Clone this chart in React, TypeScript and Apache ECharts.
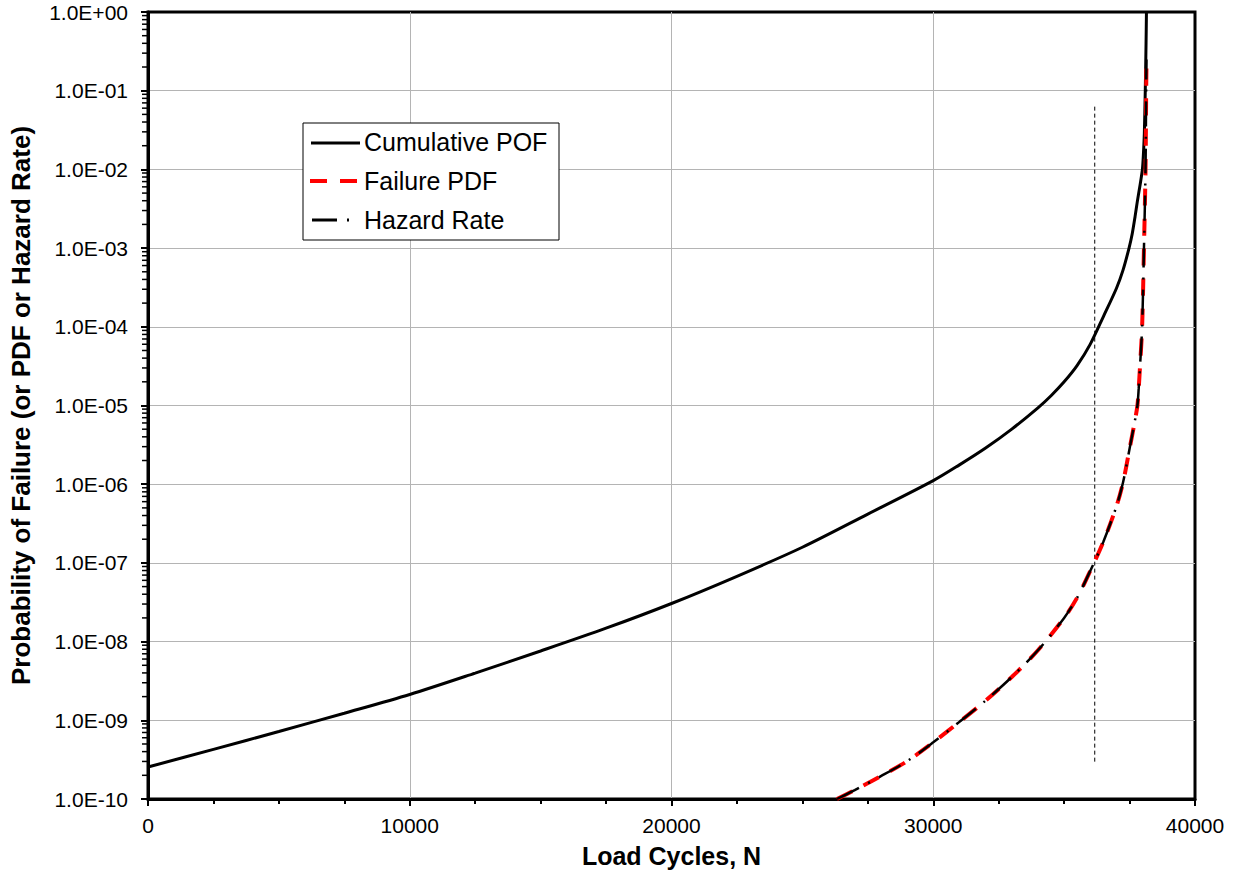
import React, { useEffect, useRef } from 'react';
import * as echarts from 'echarts';

// ---- data ----
const cumN = [0, 2500, 5000, 7500, 10000, 12500, 15000, 17500, 20000, 22500, 25000, 27500, 30000, 31000, 32000, 33000, 34000, 34500, 35000, 35500, 36000, 36500, 37000, 37250, 37480, 37600, 37710, 37800, 37900, 37990, 38030, 38065, 38100, 38130, 38145];
const cumPOF = [2.55e-10, 4.27e-10, 7.2e-10, 1.23e-9, 2.13e-9, 3.98e-9, 7.6e-9, 1.48e-8, 3.05e-8, 6.76e-8, 1.58e-7, 4.17e-7, 1.11e-6, 1.76e-6, 2.88e-6, 5.01e-6, 9.33e-6, 1.33e-5, 2.0e-5, 3.24e-5, 6.03e-5, 1.35e-4, 3.09e-4, 5.25e-4, 1.0e-3, 1.51e-3, 2.51e-3, 3.98e-3, 6.3e-3, 1.0e-2, 1.58e-2, 2.9e-2, 1.0e-1, 4.0e-1, 1.0];

const pdfN = [26320, 27000, 28000, 29000, 30000, 31000, 32000, 33000, 34000, 35000, 35500, 36000, 36500, 37000, 37250, 37500, 37700, 37800, 37850, 37900, 37980, 38050, 38110, 38135, 38145];
const pdfVal = [1e-10, 1.30e-10, 1.95e-10, 3.02e-10, 5.25e-10, 9.55e-10, 1.78e-9, 3.55e-9, 7.76e-9, 2.0e-8, 3.63e-8, 7.94e-8, 1.86e-7, 5.25e-7, 1.05e-6, 2.82e-6, 6.3e-6, 1.0e-5, 1.66e-5, 3.16e-5, 1.0e-4, 1.0e-3, 1.0e-2, 1.0e-1, 0.2];
const hazVal = [1e-10, 1.30e-10, 1.95e-10, 3.02e-10, 5.25e-10, 9.55e-10, 1.78e-9, 3.55e-9, 7.76e-9, 2.0e-8, 3.63e-8, 7.94e-8, 1.86e-7, 5.25e-7, 1.05e-6, 2.82e-6, 6.3e-6, 1.0e-5, 1.66e-5, 3.16e-5, 1.0e-4, 1.0e-3, 1.01e-2, 1.1e-1, 0.25];

const refN = [36170, 36170];
const refVal = [0.0627, 2.8e-10];

const seriesNames = ['Cumulative POF', 'Failure PDF', 'Hazard Rate'];
const xTitle = 'Load Cycles, N';
const yTitle = 'Probability of Failure (or PDF or Hazard Rate)';
const xMin = 0;
const xMax = 40000;
const xStep = 10000;
const yMin = 1e-10;
const yMax = 1;
const minorMultipliers = [2, 3, 4, 5, 6, 7, 8, 9];
const decadeExps = [-10, -9, -8, -7, -6, -5, -4, -3, -2, -1];

const FONT = '"Liberation Sans", Arial, Helvetica, sans-serif';

function fmtSci(v: number): string {
  const e = Math.round(Math.log10(v));
  return '1.0E' + (e < 0 ? '-' : '+') + String(Math.abs(e)).padStart(2, '0');
}

export default function App() {
  const ref = useRef<HTMLDivElement>(null);
  useEffect(() => {
    if (!ref.current) return;
    const chart = echarts.init(ref.current, null, { renderer: 'svg' });
    const minorVals: number[][] = [];
    decadeExps.forEach((e) => minorMultipliers.forEach((k) => minorVals.push([0, k * Math.pow(10, e)])));

    const option: any = {
      animation: false,
      backgroundColor: '#ffffff',
      grid: {
        left: 147, right: 42, top: 12, bottom: 79,
        show: true, borderColor: '#000', borderWidth: 3, backgroundColor: 'transparent',
      },
      xAxis: {
        type: 'value', min: xMin, max: xMax, interval: xStep,
        name: xTitle, nameLocation: 'middle', nameGap: 44,
        nameTextStyle: { fontFamily: FONT, fontSize: 25, fontWeight: 'bold', color: '#000' },
        axisLine: { show: true, onZero: false, lineStyle: { color: '#000', width: 3 } },
        axisTick: { show: true, inside: false, length: 7, lineStyle: { color: '#000', width: 2 } },
        minorTick: { show: true, splitNumber: 4, length: 5, lineStyle: { color: '#000', width: 2 } },
        axisLabel: { fontFamily: FONT, fontSize: 21, color: '#000', margin: 16, formatter: (v: number) => String(v) },
        splitLine: { show: true, showMinLine: false, showMaxLine: false, lineStyle: { color: '#b4b4b4', width: 1 } },
      },
      yAxis: {
        type: 'log', logBase: 10, min: yMin, max: yMax, interval: 1, splitNumber: 10,
        name: yTitle, nameLocation: 'middle', nameGap: 114,
        nameTextStyle: { fontFamily: FONT, fontSize: 26, fontWeight: 'bold', color: '#000' },
        axisLine: { show: true, onZero: false, lineStyle: { color: '#000', width: 3 } },
        axisTick: { show: true, inside: false, length: 7, lineStyle: { color: '#000', width: 2 } },
        axisLabel: { fontFamily: FONT, fontSize: 21, color: '#000', margin: 20, formatter: fmtSci, showMinLabel: true, showMaxLabel: true },
        splitLine: { show: true, showMinLine: false, showMaxLine: false, lineStyle: { color: '#b4b4b4', width: 1 } },
      },
      series: [
        {
          name: seriesNames[0], type: 'line', symbol: 'none', z: 3, smooth: 0.3,
          data: cumN.map((n, i) => [n, cumPOF[i]]),
          lineStyle: { color: '#000', width: 3 },
        },
        {
          name: seriesNames[1], type: 'line', symbol: 'none', z: 4, smooth: 0.3,
          data: pdfN.map((n, i) => [n, pdfVal[i]]),
          lineStyle: { color: '#ff0000', width: 4, type: [17, 13] },
        },
        {
          name: seriesNames[2], type: 'line', symbol: 'none', z: 5, smooth: 0.3,
          data: pdfN.map((n, i) => [n, hazVal[i]]),
          lineStyle: { color: '#000', width: 2.5, type: [25, 10, 2, 10] },
        },
        {
          name: 'ref', type: 'line', symbol: 'none', z: 2,
          data: refN.map((n, i) => [n, refVal[i]]),
          lineStyle: { color: '#000', width: 1, type: [4, 3] },
        },
        {
          name: 'yMinorTicks', type: 'custom', z: 6, clip: false, silent: true,
          data: minorVals,
          renderItem: (params: any, api: any) => {
            const p = api.coord([api.value(0), api.value(1)]);
            return {
              type: 'line',
              shape: { x1: p[0] - 6, y1: p[1], x2: p[0], y2: p[1] },
              style: { stroke: '#000', lineWidth: 1.5 },
            };
          },
        },
      ],
      graphic: [
        { type: 'rect', z: 100, shape: { x: 303, y: 123, width: 256, height: 117 }, style: { fill: '#fff', stroke: '#000', lineWidth: 1 } },
        { type: 'line', z: 101, shape: { x1: 311, y1: 143, x2: 360, y2: 143 }, style: { stroke: '#000', lineWidth: 3 } },
        { type: 'text', z: 101, x: 364, y: 142, style: { text: seriesNames[0], fontSize: 25, fontFamily: FONT, fill: '#000', verticalAlign: 'middle' } },
        { type: 'line', z: 101, shape: { x1: 310, y1: 181, x2: 358, y2: 181 }, style: { stroke: '#ff0000', lineWidth: 4, lineDash: [17, 13] } },
        { type: 'text', z: 101, x: 364, y: 181, style: { text: seriesNames[1], fontSize: 25, fontFamily: FONT, fill: '#000', verticalAlign: 'middle' } },
        { type: 'line', z: 101, shape: { x1: 312, y1: 220, x2: 350, y2: 220 }, style: { stroke: '#000', lineWidth: 3, lineDash: [25, 10, 2, 10] } },
        { type: 'text', z: 101, x: 364, y: 220, style: { text: seriesNames[2], fontSize: 25, fontFamily: FONT, fill: '#000', verticalAlign: 'middle' } },
      ],
    };
    chart.setOption(option);
    return () => chart.dispose();
  }, []);
  return <div ref={ref} style={{ position: 'fixed', left: 0, top: 0, width: 1237, height: 878 }} />;
}
